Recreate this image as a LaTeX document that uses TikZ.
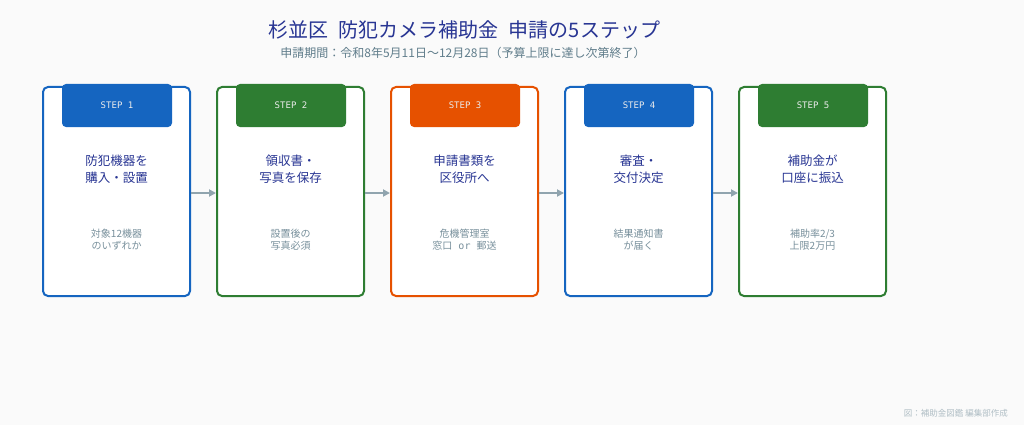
\documentclass[tikz,border=0pt]{standalone}
\usepackage{fontspec}
\setmainfont{Noto Sans CJK JP}
\newfontfamily\monofnt{DejaVu Sans Mono}
\usetikzlibrary{arrows.meta}
\definecolor{bg}{HTML}{FAFAFA}
\definecolor{cblue}{HTML}{1565C0}
\definecolor{cgreen}{HTML}{2E7D32}
\definecolor{corange}{HTML}{E65100}
\definecolor{titlecol}{HTML}{283593}
\definecolor{subcol}{HTML}{607D8B}
\definecolor{notecol}{HTML}{78909C}
\definecolor{footcol}{HTML}{B0BEC5}
\definecolor{arrowcol}{HTML}{90A4AE}
\tikzset{
  card/.style={draw=#1, line width=2pt, fill=white, rounded corners=5pt,
    minimum width=147pt, minimum height=209pt, inner sep=0pt},
  tab/.style={fill=#1, rounded corners=4pt, minimum width=110pt,
    minimum height=43pt, inner sep=0pt, text=white!92!black,
    font=\monofnt\fontsize{9}{10}\selectfont},
  mainlbl/.style={text=titlecol, font=\fontsize{12.5}{17}\selectfont,
    align=center, inner sep=0pt},
  sublbl/.style={text=notecol, font=\fontsize{10}{12.5}\selectfont,
    align=center, inner sep=0pt},
  flow/.style={draw=arrowcol, line width=2pt, -{Triangle[length=7pt,width=7pt]}},
}
\begin{document}
\begin{tikzpicture}[x=1pt,y=-1pt]
\fill[bg] (0,0) rectangle (1024,425);
\useasboundingbox (0,0) rectangle (1024,425);

\node[text=titlecol, font=\fontsize{20}{24}\selectfont, inner sep=0pt]
  (title) at (464.5,30) {杉並区\hspace{0.5em}防犯カメラ補助金\hspace{0.5em}申請の5ステップ};
\node[text=subcol, font=\fontsize{12}{14}\selectfont, inner sep=0pt]
  (subtitle) at (463,53) {申請期間：令和8年5月11日〜12月28日（予算上限に達し次第終了）};

% cards
\node[card=cblue]   (b1) at (116.5,191.5) {};
\node[card=cgreen]  (b2) at (290.5,191.5) {};
\node[card=corange] (b3) at (464.5,191.5) {};
\node[card=cblue]   (b4) at (638.5,191.5) {};
\node[card=cgreen]  (b5) at (812.5,191.5) {};

% tabs
\node[tab=cblue]   (t1) at (117,105.5) {STEP 1};
\node[tab=cgreen]  (t2) at (291,105.5) {STEP 2};
\node[tab=corange] (t3) at (465,105.5) {STEP 3};
\node[tab=cblue]   (t4) at (639,105.5) {STEP 4};
\node[tab=cgreen]  (t5) at (813,105.5) {STEP 5};

% main labels
\node[mainlbl] (m1) at (116.5,169) {防犯機器を\\購入・設置};
\node[mainlbl] (m2) at (290.5,169) {領収書・\\写真を保存};
\node[mainlbl] (m3) at (464.5,169) {申請書類を\\区役所へ};
\node[mainlbl] (m4) at (638.5,169) {審査・\\交付決定};
\node[mainlbl] (m5) at (812.5,169) {補助金が\\口座に振込};

% notes
\node[sublbl] (n1) at (116.5,239.5) {対象12機器\\のいずれか};
\node[sublbl] (n2) at (290.5,239.5) {設置後の\\写真必須};
\node[sublbl] (n3) at (464.5,239.5) {危機管理室\\窓口{\monofnt{} or }郵送};
\node[sublbl] (n4) at (638.5,239.5) {結果通知書\\が届く};
\node[sublbl] (n5) at (812.5,239.5) {補助率2/3\\上限2万円};

% arrows
\draw[flow] ([yshift=-1.5pt]b1.east) -- ([yshift=-1.5pt]b2.west);
\draw[flow] ([yshift=-1.5pt]b2.east) -- ([yshift=-1.5pt]b3.west);
\draw[flow] ([yshift=-1.5pt]b3.east) -- ([yshift=-1.5pt]b4.west);
\draw[flow] ([yshift=-1.5pt]b4.east) -- ([yshift=-1.5pt]b5.west);

\node[text=footcol, font=\fontsize{8.5}{10}\selectfont, anchor=east, inner sep=0pt]
  (foot) at (1008,413) {図：補助金図鑑 編集部作成};
\end{tikzpicture}
\end{document}
